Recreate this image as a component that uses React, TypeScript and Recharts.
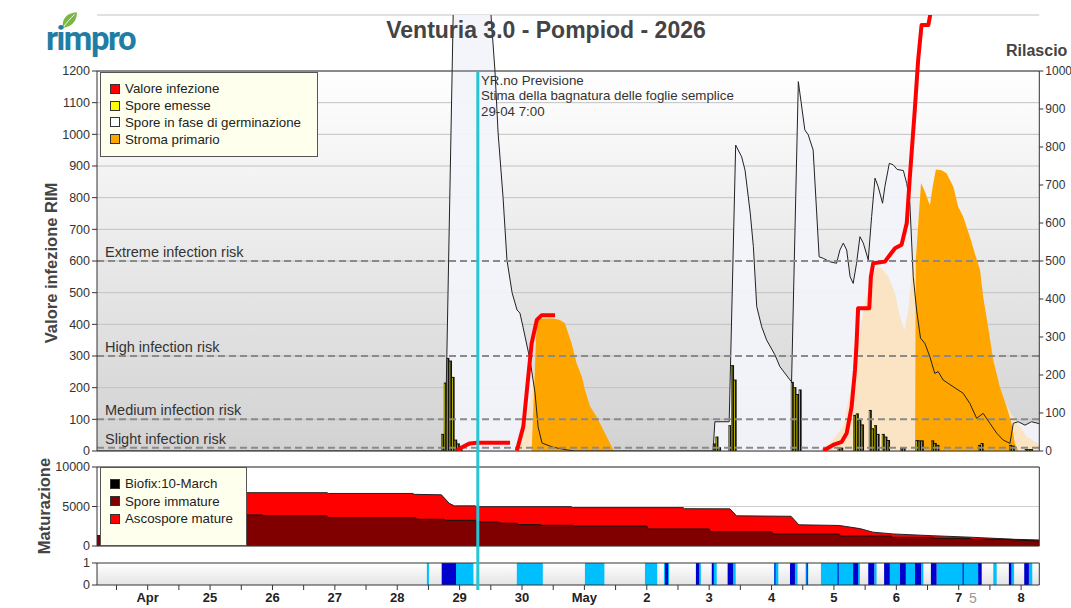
import React from "react";
import {
  ComposedChart,
  Area,
  Line,
  Bar,
  XAxis,
  YAxis,
  CartesianGrid,
  ReferenceLine,
  Legend,
} from "recharts";

const W = 1071;
const H = 608;
const FONT = "'Liberation Sans', Arial, Helvetica, sans-serif";

// x axis: hours counted from 24 April 00:00
const X_DOMAIN: [number, number] = [-19.5, 343];
const hourTicks = [
  -12, 0, 12, 24, 36, 48, 60, 72, 84, 96, 108, 120, 132, 144, 156, 168, 180,
  192, 204, 216, 228, 240, 252, 264, 276, 288, 300, 312, 324, 336,
];
const dayLabels = ["Apr", "25", "26", "27", "28", "29", "30", "May", "2", "3", "4", "5", "6", "7", "8"];
const forecastHour = 127; // 29-04 7:00

// main panel geometry (page pixels)
const PLOT_TOP = 71;
const PLOT_BOTTOM = 451;
const CLIP_TOP = 15;
const RIM_TOP = 1200;
const RELEASE_TOP = 1000;
const RIM_MAX = (RIM_TOP * (PLOT_BOTTOM - CLIP_TOP)) / (PLOT_BOTTOM - PLOT_TOP);
const RELEASE_MAX = (RELEASE_TOP * (PLOT_BOTTOM - CLIP_TOP)) / (PLOT_BOTTOM - PLOT_TOP);
const CYAN_LOW = (-RIM_TOP * (590 - PLOT_BOTTOM)) / (PLOT_BOTTOM - PLOT_TOP);

const rimTicks = [0, 100, 200, 300, 400, 500, 600, 700, 800, 900, 1000, 1100, 1200];
const releaseTicks = [0, 100, 200, 300, 400, 500, 600, 700, 800, 900, 1000];
const maturationTicks = [0, 5000, 10000];
const wetTicks = [0, 1];

const riskLevels = [
  { name: "Extreme infection risk", value: 600 },
  { name: "High infection risk", value: 300 },
  { name: "Medium infection risk", value: 100 },
  { name: "Slight infection risk", value: 10 },
];

// Valore infezione (RIM, left axis) - null = gap
const infectionValue: [number, number | null][] = [
  [118.9, 1], [120.9, 12], [123.9, 24], [126.6, 26], [139.4, 26], [140.5, null],
  [142.0, 1], [144.5, 77], [146.4, 235], [147.7, 340], [149.7, 414], [151.6, 429], [156.7, 429], [158, null],
  [259.9, 1], [263.7, 19], [267.0, 29], [268.9, 56], [270.8, 140], [272.1, 256], [272.7, 340],
  [273.3, 451], [277.6, 451], [278.2, 550], [279.1, 593], [283.6, 598], [285.5, 619], [287.5, 640],
  [290.0, 651], [292.0, 719], [293.2, 866], [295.1, 1077], [296.4, 1235], [297.7, 1345], [300.3, 1345],
  [302.0, 1420],
];

// Spore in fase di germinazione (right axis)
const germinating: [number, number][] = [
  [-19.5, 0], [114.4, 0], [117.8, 1250], [131.0, 1250], [133.6, 1000], [134.8, 837], [136.7, 668],
  [138.2, 503], [140.2, 416], [142.1, 371], [143.2, 363], [144.4, 326], [147.1, 239], [149.0, 153],
  [150.2, 63], [151.7, 21], [155.9, 10], [161.3, 3], [164.4, 0],
  [217.5, 0], [218.2, 77], [223.7, 77], [226.2, 805], [228.5, 774], [229.8, 739], [231.8, 626],
  [233.0, 538], [234.3, 380], [236.2, 327], [238.1, 292], [241.3, 253], [243.2, 222], [247.1, 187],
  [247.7, 182], [250.3, 972], [252.8, 845], [254.1, 832], [256.0, 792], [257.3, 634], [258.3, 511],
  [259.9, 507], [262.4, 498], [265.0, 494], [266.3, 529], [267.6, 547], [268.9, 529], [270.2, 459],
  [271.4, 441], [272.7, 494], [274.0, 564], [275.3, 547], [277.2, 503], [278.5, 617], [279.8, 718],
  [281.0, 696], [282.7, 652], [283.6, 696], [285.3, 757], [286.8, 753], [288.3, 741], [290.7, 738],
  [292.0, 704], [293.2, 652], [294.5, 459], [295.8, 371], [297.3, 297], [299.0, 283], [300.9, 248],
  [302.8, 204], [304.1, 209], [306.0, 187], [309.9, 169], [313.7, 152], [316.3, 125], [318.9, 86],
  [321.4, 99], [324.0, 73], [326.6, 47], [329.1, 29], [331.7, 20], [333.0, 73], [334.9, 77],
  [337.5, 68], [340.0, 77], [343.0, 72],
];

// Stroma primario (right axis)
const primaryStroma: [number, number][] = [
  [-19.5, 0], [147.7, 0], [149.7, 345], [151.6, 349], [156.0, 349], [158.6, 345], [160.5, 336],
  [161.8, 310], [163.1, 283], [165.0, 231], [167.0, 196], [168.2, 161], [170.2, 117], [172.7, 90],
  [175.3, 55], [177.2, 29], [179.1, 3], [179.6, 0],
  [295.2, 0], [295.5, 503], [297.5, 705], [299.0, 682], [300.9, 647], [302.0, 696], [303.2, 741],
  [305.4, 739], [307.3, 731], [309.9, 696], [311.8, 643], [313.7, 617], [316.3, 564], [318.2, 520],
  [320.2, 476], [321.4, 406], [323.3, 327], [325.3, 239], [327.8, 169], [330.4, 117], [332.3, 73],
  [333.6, 20], [334.9, 0], [343, 0],
];

// stroma forecast (light, right axis)
const stromaForecast: [number, number][] = [
  [-19.5, 0], [142.0, 0], [145.1, 55], [147.8, 160], [149.4, 240], [153, 300], [158.6, 318],
  [164.4, 215], [170.2, 100], [176, 22], [178.6, 0],
  [259.9, 0], [267.6, 64], [271.4, 196], [275.3, 371], [278.5, 459], [280.4, 485], [282.3, 481],
  [284.9, 459], [287.5, 415], [289.4, 353], [291.1, 318], [292.6, 371], [293.9, 459], [295.0, 500],
  [297, 560], [305, 560], [315, 450], [320, 300], [326, 180], [329, 140], [332, 100], [334, 80],
  [338.1, 38], [343, 18],
];

// Spore emesse (hourly, right axis)
const sporeRelease: [number, number][] = [
  [113.5, 45], [114.5, 180], [115.5, 245], [116.5, 238], [117.5, 195], [118.5, 30], [119.5, 20], [120.5, 12],
  [218, 20], [219, 38], [220, 10], [224, 68], [225, 226], [226, 188],
  [248, 182], [249, 168], [250, 150], [251, 162],
  [266, 7], [267, 9], [272, 95], [273, 99], [274, 82], [275, 70], [278, 108], [279, 60], [280, 68], [281, 45],
  [283, 45], [284, 38], [285, 29], [290, 8], [291, 8], [296, 29], [297, 28], [298, 28],
  [302, 28], [303, 21], [304, 16], [320, 16], [321, 21], [332, 16], [333, 14], [338, 5], [339, 5], [340, 5],
];

// Maturazione: total (immature + mature) and immature
const sporesTotal: [number, number][] = [
  [-19.5, 1300], [37.8, 1300], [38, 6750], [69, 6750], [69.5, 6650], [102, 6650], [102.5, 6540],
  [113, 6480], [116, 5400], [118, 5080], [126, 5080], [126.5, 4980], [163, 4980], [163.5, 4860],
  [206, 4860], [206.5, 4720], [224, 4700], [226.5, 3820], [247.5, 3760], [250.5, 2680], [266, 2600],
  [268, 2500], [274, 2200], [279, 1750], [287, 1520], [302, 1300], [316, 1120], [327, 950],
  [332, 860], [343, 760],
];
const sporesImmature: [number, number][] = [
  [-19.5, 1300], [37.8, 1300], [38, 3925], [44, 3925], [44.5, 3840], [69, 3840], [69.5, 3600],
  [103, 3600], [103.5, 3380], [114, 3380], [114.5, 3250], [126, 3250], [126.5, 3050], [135, 3050],
  [135.5, 2880], [142, 2880], [142.5, 2700], [151, 2700], [151.5, 2620], [163.5, 2620], [164, 2530],
  [192, 2530], [192.5, 2150], [216, 2150], [216.5, 1810], [240, 1810], [240.5, 1520], [266, 1520],
  [266.5, 1266], [286, 1266], [286.5, 1100], [302, 1100], [302.5, 975], [316.5, 975], [317, 850],
  [332.5, 850], [333, 760], [343, 640],
];

// leaf wetness (hour spans)
const wetSpans: [number, number][] = [
  [107.4, 108.2], [118.6, 125.3], [142, 152], [168.2, 175.7], [191.3, 196], [198.6, 200.6],
  [212.2, 212.8], [217.8, 218.9], [225.2, 226.2], [241, 242.6], [249, 250], [253.1, 254.1],
  [259, 274], [279.5, 280.4], [285.5, 298.4], [303.5, 320.8], [325.3, 326.6], [332.3, 333.3],
  [339, 340.3],
];
const rainSpans: [number, number][] = [
  [113.1, 118.6], [199, 200.2], [210.9, 212.2], [217, 217.8], [223.1, 225.2], [241.1, 241.5],
  [247.1, 249], [253.5, 253.9], [265.4, 265.8], [271.4, 273.3], [277.2, 279.5], [283.3, 285.5],
  [289.4, 291.6], [295.2, 297.5], [301.3, 303.5], [313.5, 313.9], [319.5, 320.8], [331.3, 332.3],
  [337.2, 339],
];

const mainLegend = [
  { name: "Valore infezione", color: "#ff0000" },
  { name: "Spore emesse", color: "#ffff00" },
  { name: "Spore in fase di germinazione", color: "#ffffff" },
  { name: "Stroma primario", color: "#ffa500" },
];
const maturationLegend = [
  { name: "Biofix:10-March", color: "#000000" },
  { name: "Spore immature", color: "#800000" },
  { name: "Ascospore mature", color: "#ff0000" },
];

const toPoints = (rows: [number, number | null][]) => rows.map(([h, v]) => ({ h, v }));
const toSteps = (spans: [number, number][]) => {
  const pts: { h: number; v: number }[] = [{ h: X_DOMAIN[0], v: 0 }];
  spans.forEach(([a, b]) => {
    pts.push({ h: a, v: 1 }, { h: b, v: 0 });
  });
  pts.push({ h: X_DOMAIN[1], v: 0 });
  return pts;
};

const infectionData = toPoints(infectionValue);
const germData = toPoints(germinating);
const stromaData = toPoints(primaryStroma);
const forecastData = toPoints(stromaForecast);
const sporeData = toPoints(sporeRelease);
const totalData = toPoints(sporesTotal);
const immatureData = toPoints(sporesImmature);
const wetData = toSteps(wetSpans);
const rainData = toSteps(rainSpans);

const dayTick = (h: number) => (h >= 0 && h % 24 === 0 ? dayLabels[h / 24] : "");

function LegendBox({ items, width, height, rowHeight, padTop }: any) {
  return (
    <div
      style={{
        width,
        height,
        boxSizing: "border-box",
        background: "#ffffee",
        border: "1px solid #555",
        padding: `${padTop}px 0 0 9px`,
        fontFamily: FONT,
      }}
    >
      {items.map((it: any) => (
        <div
          key={it.name}
          style={{ display: "flex", alignItems: "center", height: rowHeight, fontSize: 13.3, color: "#222", whiteSpace: "nowrap" }}
        >
          <span
            style={{
              display: "inline-block",
              width: 10,
              height: 10,
              boxSizing: "border-box",
              background: it.color,
              border: "1px solid #333",
              marginRight: 5,
            }}
          />
          {it.name}
        </div>
      ))}
    </div>
  );
}

// spore bar: black body with a thin yellow edge, fixed 3px wide around the bar centre
const SporeBar = (props: any) => {
  const { x, y, width, height } = props;
  if (!height || height <= 0) return <g />;
  const cx = x + width / 2;
  return (
    <g>
      <rect x={cx - 1.5} y={y} width={3} height={height} fill="#111" />
      <rect x={cx - 1.1} y={y + 1} width={0.9} height={Math.max(0, height - 1)} fill="#c8c000" />
    </g>
  );
};

const abs = (left: number, top: number, extra: any = {}) => ({ position: "absolute" as const, left, top, ...extra });

export default function App() {
  return (
    <div style={{ position: "absolute", left: 0, top: 0, width: W, height: H, background: "#fff", fontFamily: FONT, overflow: "hidden" }}>
      {/* panel backgrounds */}
      <div style={abs(97, PLOT_TOP, { width: 942, height: PLOT_BOTTOM - PLOT_TOP, background: "linear-gradient(#ffffff, #d2d2d2)" })} />
      <div style={abs(97, 563, { width: 942, height: 22, background: "linear-gradient(#ffffff, #e4e4e4)" })} />

      {/* leaf wetness strip */}
      <div style={abs(0, 0)}>
        <ComposedChart width={W} height={H} margin={{ top: 563, right: 31.7, bottom: 0, left: 0 }}>
          <XAxis
            dataKey="h"
            type="number"
            domain={X_DOMAIN}
            allowDataOverflow
            ticks={hourTicks}
            interval={0}
            tickFormatter={dayTick}
            height={23}
            tickSize={5}
            tickMargin={3}
            axisLine={{ stroke: "#333" }}
            tickLine={{ stroke: "#333" }}
            tick={{ fontSize: 13, fontWeight: "bold", fill: "#222" }}
          />
          <YAxis
            domain={[0, 1]}
            ticks={wetTicks}
            interval={0}
            width={97}
            tickSize={5}
            tickMargin={2}
            axisLine={{ stroke: "#333" }}
            tickLine={{ stroke: "#333" }}
            tick={{ fontSize: 12.5, fill: "#333" }}
          />
          <Area data={wetData} dataKey="v" type="stepAfter" stroke="none" fill="#00bfff" fillOpacity={1} isAnimationActive={false} />
          <Area data={rainData} dataKey="v" type="stepAfter" stroke="none" fill="#0000cd" fillOpacity={1} isAnimationActive={false} />
          <ReferenceLine y={1} stroke="#333" />
          <ReferenceLine x={X_DOMAIN[1]} stroke="#333" />
        </ComposedChart>
      </div>

      {/* maturation panel */}
      <div style={abs(0, 0)}>
        <ComposedChart width={W} height={H} margin={{ top: 467, right: 31.7, bottom: H - 546, left: 0 }}>
          <CartesianGrid vertical={false} stroke="#cfcfcf" />
          <XAxis dataKey="h" type="number" domain={X_DOMAIN} allowDataOverflow hide />
          <YAxis
            domain={[0, 10000]}
            ticks={maturationTicks}
            interval={0}
            width={97}
            tickSize={5}
            tickMargin={2}
            axisLine={{ stroke: "#333" }}
            tickLine={{ stroke: "#333" }}
            tick={{ fontSize: 12.5, fill: "#333" }}
          />
          <Area data={totalData} dataKey="v" type="linear" stroke="#222" strokeWidth={1} fill="#ff0000" fillOpacity={1} isAnimationActive={false} />
          <Area data={immatureData} dataKey="v" type="linear" stroke="#111" strokeWidth={1} fill="#800000" fillOpacity={1} isAnimationActive={false} />
          <ReferenceLine y={10000} stroke="#333" />
          <ReferenceLine y={0} stroke="#333" />
          <ReferenceLine x={X_DOMAIN[1]} stroke="#333" />
          <Legend
            layout="vertical"
            align="center"
            verticalAlign="middle"
            wrapperStyle={{ top: 467, left: 100, width: 147 }}
            content={() => <LegendBox items={maturationLegend} width={147} height={79} rowHeight={17.5} padTop={7} />}
          />
        </ComposedChart>
      </div>

      {/* main panel */}
      <div style={abs(0, 0)}>
        <ComposedChart width={W} height={H} data={sporeData} margin={{ top: CLIP_TOP, right: 0, bottom: H - PLOT_BOTTOM, left: 0 }}>
          <CartesianGrid vertical={false} stroke="#c2c2c2" />
          <XAxis dataKey="h" type="number" domain={X_DOMAIN} allowDataOverflow hide />
          <YAxis
            domain={[0, RIM_MAX]}
            allowDataOverflow
            ticks={rimTicks}
            interval={0}
            width={97}
            axisLine={false}
            tickSize={5}
            tickMargin={2}
            tickLine={{ stroke: "#333" }}
            tick={{ fontSize: 12.5, fill: "#333" }}
          />
          <YAxis
            yAxisId="r"
            orientation="right"
            domain={[0, RELEASE_MAX]}
            allowDataOverflow
            ticks={releaseTicks}
            interval={0}
            width={31.7}
            axisLine={false}
            tickSize={4}
            tickMargin={2}
            tickLine={{ stroke: "#333" }}
            tick={{ fontSize: 12, fill: "#333" }}
          />
          <Area yAxisId="r" data={germData} dataKey="v" type="linear" stroke="none" fill="#f3f3fb" fillOpacity={0.93} isAnimationActive={false} />
          <Area yAxisId="r" data={forecastData} dataKey="v" type="linear" stroke="none" fill="#fae4c4" fillOpacity={1} isAnimationActive={false} />
          <Area yAxisId="r" data={stromaData} dataKey="v" type="linear" stroke="none" fill="#ffa500" fillOpacity={1} isAnimationActive={false} />
          <Bar yAxisId="r" dataKey="v" barSize={3} shape={SporeBar} isAnimationActive={false} />
          <Line yAxisId="r" data={germData} dataKey="v" type="linear" stroke="#222" strokeWidth={1} dot={false} isAnimationActive={false} />
          {riskLevels.map((r) => (
            <ReferenceLine
              key={r.name}
              y={r.value}
              stroke="#8a8a8a"
              strokeWidth={2}
              strokeDasharray="7 4"
              label={{ value: r.name, position: "insideBottomLeft", offset: 4, dx: 4, fontSize: 14.5, fill: "#333" }}
            />
          ))}
          <ReferenceLine y={RIM_TOP} stroke="#333" />
          <ReferenceLine y={0} stroke="#333" />
          <ReferenceLine segment={[{ x: X_DOMAIN[0], y: 0 }, { x: X_DOMAIN[0], y: RIM_TOP }]} stroke="#333" />
          <ReferenceLine segment={[{ x: X_DOMAIN[1], y: 0 }, { x: X_DOMAIN[1], y: RIM_TOP }]} stroke="#333" />
          <Line
            data={infectionData}
            dataKey="v"
            type="linear"
            stroke="#ff0000"
            strokeWidth={4}
            strokeLinejoin="round"
            dot={false}
            connectNulls={false}
            isAnimationActive={false}
          />
          <ReferenceLine
            segment={[{ x: forecastHour, y: RIM_TOP }, { x: forecastHour, y: CYAN_LOW }]}
            ifOverflow="visible"
            stroke="#24c6d6"
            strokeWidth={3}
          />
          <Legend
            layout="vertical"
            align="center"
            verticalAlign="middle"
            wrapperStyle={{ top: 72, left: 100, width: 218 }}
            content={() => <LegendBox items={mainLegend} width={218} height={85} rowHeight={16.8} padTop={7.5} />}
          />
        </ComposedChart>
      </div>

      {/* titles and annotations */}
      <div style={abs(546, 18.8, { transform: "translateX(-50%)", fontSize: 23, lineHeight: "23px", fontWeight: "bold", color: "#444", whiteSpace: "nowrap" })}>
        Venturia 3.0 - Pompiod - 2026
      </div>
      <svg style={abs(61, 11)} width={17} height={18} viewBox="0 0 15 16">
        <path d="M1.5 15 C 0.5 7, 5 1.5, 14 1 C 14.5 9, 9 14, 1.5 15 Z" fill="#7ab843" />
        <path d="M2 14.5 C 5 10, 8 7, 12 3" stroke="#ffffff" strokeWidth={0.8} fill="none" />
      </svg>
      <div style={abs(46, 22, { fontFamily: "Roboto, sans-serif", fontWeight: 700, fontSize: 33, lineHeight: "33px", letterSpacing: -1.5, color: "#1f7ea4" })}>
        rimpro
      </div>
      <div style={abs(1006, 43, { fontSize: 16, lineHeight: "16.5px", fontWeight: "bold", color: "#444", whiteSpace: "nowrap" })}>
        Rilascio
      </div>
      <div style={abs(51, 262.5, { transform: "translate(-50%, -50%) rotate(-90deg)", fontSize: 16.5, lineHeight: "16.5px", fontWeight: "bold", color: "#444", whiteSpace: "nowrap" })}>
        Valore infezione RIM
      </div>
      <div style={abs(44, 506, { transform: "translate(-50%, -50%) rotate(-90deg)", fontSize: 16.5, lineHeight: "16.5px", fontWeight: "bold", color: "#444", whiteSpace: "nowrap" })}>
        Maturazione
      </div>
      <div style={abs(481, 72.5, { fontSize: 13.3, lineHeight: "15.5px", color: "#333", whiteSpace: "nowrap" })}>
        <div>YR.no Previsione</div>
        <div>Stima della bagnatura delle foglie semplice</div>
        <div>29-04 7:00</div>
      </div>
      <div style={abs(969, 590, { fontSize: 14, lineHeight: "16px", color: "#999" })}>5</div>
    </div>
  );
}
